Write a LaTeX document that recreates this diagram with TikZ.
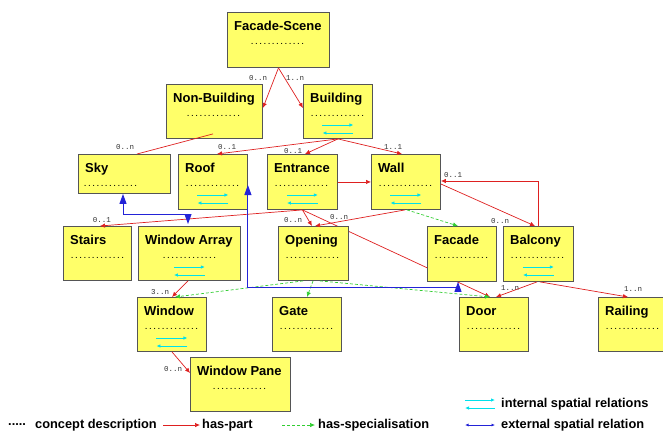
\documentclass[tikz,border=0pt]{standalone}
\usepackage{fontspec}
\setmainfont{Liberation Sans}
\setmonofont{Liberation Mono}
\usetikzlibrary{arrows.meta,calc,positioning,backgrounds}
\definecolor{ConceptYellow}{RGB}{255,255,105}
\definecolor{BoxGray}{RGB}{85,85,85}
\definecolor{PartRed}{RGB}{222,32,32}
\definecolor{SpecGreen}{RGB}{50,205,50}
\definecolor{RelBlue}{RGB}{35,35,215}
\definecolor{InnerCyan}{RGB}{0,225,235}
\newcommand{\dotrow}{.............}
% name, x, y, width, height, title, dots offset
\newcommand{\conceptbox}[7]{%
  \node[concept,minimum width=#4pt,minimum height=#5pt] (#1) at (#2,#3) {};
  \node[ctitle] (#1-title) at ($(#1.north west)+(7,18)$) {#6};
  \node[cdots] (#1-dots) at ($(#1.north west)+(#7,32)$) {\dotrow};}
\newcommand{\spatialpair}[1]{%
  \draw[innerrel] ($(#1.north)+(-15.5,41)$) -- ($(#1.north)+(15.5,41)$);
  \draw[innerrel] ($(#1.north)+(15.5,49)$) -- ($(#1.north)+(-15.5,49)$);}

\begin{document}
\begin{tikzpicture}[x=1pt,y=-1pt,
  concept/.style={draw=BoxGray,fill=ConceptYellow,line width=0.9pt,anchor=north west,inner sep=0pt},
  ctitle/.style={anchor=base west,inner sep=0pt,font=\fontsize{13}{15}\selectfont\bfseries},
  cdots/.style={anchor=base west,inner sep=0pt,font=\fontsize{7}{8}\selectfont\ttfamily\bfseries},
  mult/.style={inner sep=0pt,font=\fontsize{7.5}{8}\selectfont\ttfamily,text=black!80},
  haspart/.style={draw=PartRed,line width=0.7pt,-{Latex[length=5pt,width=4.5pt]}},
  hasspec/.style={draw=SpecGreen,line width=0.7pt,dash pattern=on 3pt off 2pt,-{Latex[length=5pt,width=4.5pt]}},
  extrel/.style={draw=RelBlue,line width=0.9pt,{Triangle[length=10pt,width=7pt]}-{Triangle[length=10pt,width=7pt]}},
  innerrel/.style={draw=InnerCyan,line width=1pt,-{Latex[length=4pt,width=3.5pt]}},
  legtext/.style={anchor=west,inner sep=0pt,font=\fontsize{12.8}{14}\selectfont\bfseries}]
\useasboundingbox (0,0) rectangle (663,432);

% concepts
\conceptbox{fscene}{227}{12}{102}{55}{Facade-Scene}{23}
\conceptbox{nonbuild}{166}{84}{96}{54}{Non-Building}{20}
\conceptbox{building}{303}{84}{69}{54}{Building}{7}
\conceptbox{sky}{78}{154}{92}{39}{Sky}{5}
\conceptbox{roof}{178}{154}{69}{55}{Roof}{7}
\conceptbox{entrance}{267}{154}{70}{55}{Entrance}{7}
\conceptbox{wall}{371}{154}{69}{55}{Wall}{7}
\conceptbox{stairs}{63}{226}{68}{54}{Stairs}{7}
\conceptbox{warray}{138}{226}{102}{54}{Window Array}{24}
\conceptbox{opening}{278}{226}{70}{54}{Opening}{7}
\conceptbox{facade}{427}{226}{69}{55}{Facade}{7}
\conceptbox{balcony}{503}{226}{70}{55}{Balcony}{7}
\conceptbox{window}{137}{297}{69}{54}{Window}{7}
\conceptbox{gate}{272}{297}{69}{54}{Gate}{7}
\conceptbox{door}{459}{297}{69}{54}{Door}{7}
\conceptbox{railing}{598}{297}{69}{54}{Railing}{7}
\conceptbox{wpane}{190}{357}{100}{54}{Window Pane}{22}
\spatialpair{building}
\spatialpair{roof}
\spatialpair{entrance}
\spatialpair{wall}
\spatialpair{warray}
\spatialpair{balcony}
\spatialpair{window}

% has-part
\begin{scope}[on background layer]
  \draw[haspart] (entrance.south) -- ($(door.north west)+(31,0)$);
\end{scope}
\draw[haspart] (fscene.south) -- ($(nonbuild.north east)+(0,24)$);
\draw[haspart] (fscene.south) -- ($(building.north west)+(0,24)$);
\draw[draw=PartRed,line width=0.7pt] ($(nonbuild.south west)+(47,-5)$) -- ($(sky.north west)+(59,0)$);
\draw[haspart] (building.south) -- ($(roof.north west)+(39,0)$);
\draw[haspart] (building.south) -- ($(entrance.north west)+(38,0)$);
\draw[haspart] (building.south) -- ($(wall.north west)+(31,0)$);
\draw[haspart] (entrance.east) -- (wall.west);
\draw[haspart] (entrance.south) -- ($(stairs.north west)+(37,0)$);
\draw[haspart] (entrance.south) -- ($(opening.north west)+(34,0)$);
\draw[haspart] ($(wall.south west)+(34,0)$) -- ($(opening.north west)+(37,0)$);
\draw[haspart] ($(wall.north east)+(0,30)$) -- ($(balcony.north west)+(32,0)$);
\draw[haspart] ($(balcony.north west)+(35,0)$) |- ($(wall.north east)+(0,27)$);
\draw[haspart] ($(balcony.south west)+(34,0)$) -- ($(door.north west)+(37,0)$);
\draw[haspart] ($(balcony.south west)+(37,0)$) -- ($(railing.north west)+(30,0)$);
\draw[haspart] ($(warray.south west)+(50,0)$) -- ($(window.north west)+(35,0)$);
\draw[haspart] ($(window.south west)+(35,0)$) -- ($(wpane.north west)+(0,16)$);

% has-specialisation
\draw[hasspec] ($(wall.south west)+(36,0)$) -- ($(facade.north west)+(31,0)$);
\draw[hasspec] ($(opening.south west)+(25,0)$) -- ($(window.north west)+(38,0)$);
\draw[hasspec] ($(opening.south west)+(35,0)$) -- ($(gate.north west)+(35,0)$);
\draw[hasspec] ($(opening.south west)+(42,0)$) -- ($(door.north west)+(31,0)$);

% external spatial relations
\draw[extrel] ($(sky.south west)+(45,0)$) -- ++(0,21) -| ($(warray.north west)+(50,-2)$);
\draw[extrel] ($(roof.north east)+(0,31)$) -- ++(0,102) -| ($(facade.south west)+(31,0)$);

% multiplicities
\node[mult] (m1) at (258,78) {0..n};
\node[mult] (m2) at (295,78) {1..n};
\node[mult] (m3) at (125,147) {0..n};
\node[mult] (m4) at (227,147) {0..1};
\node[mult] (m5) at (293,151) {0..1};
\node[mult] (m6) at (393,147) {1..1};
\node[mult] (m7) at (102,220) {0..1};
\node[mult] (m8) at (293,220) {0..n};
\node[mult] (m9) at (339,217) {0..n};
\node[mult] (m10) at (500,221) {0..n};
\node[mult] (m11) at (453,175) {0..1};
\node[mult] (m12) at (510,288) {1..n};
\node[mult] (m13) at (633,289) {1..n};
\node[mult] (m14) at (160,292) {3..n};
\node[mult] (m15) at (173,369) {0..n};

% legend
\node[legtext] (leg-dots) at (8,425) {.....};
\node[legtext] (leg-desc) at (35,425) {concept description};
\node[legtext] (leg-part) at (202,425) {has-part};
\node[legtext] (leg-spec) at (318,425) {has-specialisation};
\node[legtext] (leg-int) at (501,404) {internal spatial relations};
\node[legtext] (leg-ext) at (501,425) {external spatial relation};
\coordinate (lp) at (163,425);
\coordinate (ls) at (282,425);
\coordinate (li) at (465,400);
\coordinate (le) at (465,425);
\draw[haspart] (lp) -- ($(leg-part.west)+(-2,0)$);
\draw[hasspec] (ls) -- ($(leg-spec.west)+(-3,0)$);
\draw[innerrel] (li) -- ($(leg-int.west)+(-6,-4)$);
\draw[innerrel] ($(leg-int.west)+(-6,4)$) -- ($(li)+(0,8)$);
\draw[draw=RelBlue,line width=0.9pt,{Latex[length=3.5pt,width=3pt]}-{Latex[length=3.5pt,width=3pt]}] (le) -- ($(leg-ext.west)+(-6,0)$);
\end{tikzpicture}
\end{document}
